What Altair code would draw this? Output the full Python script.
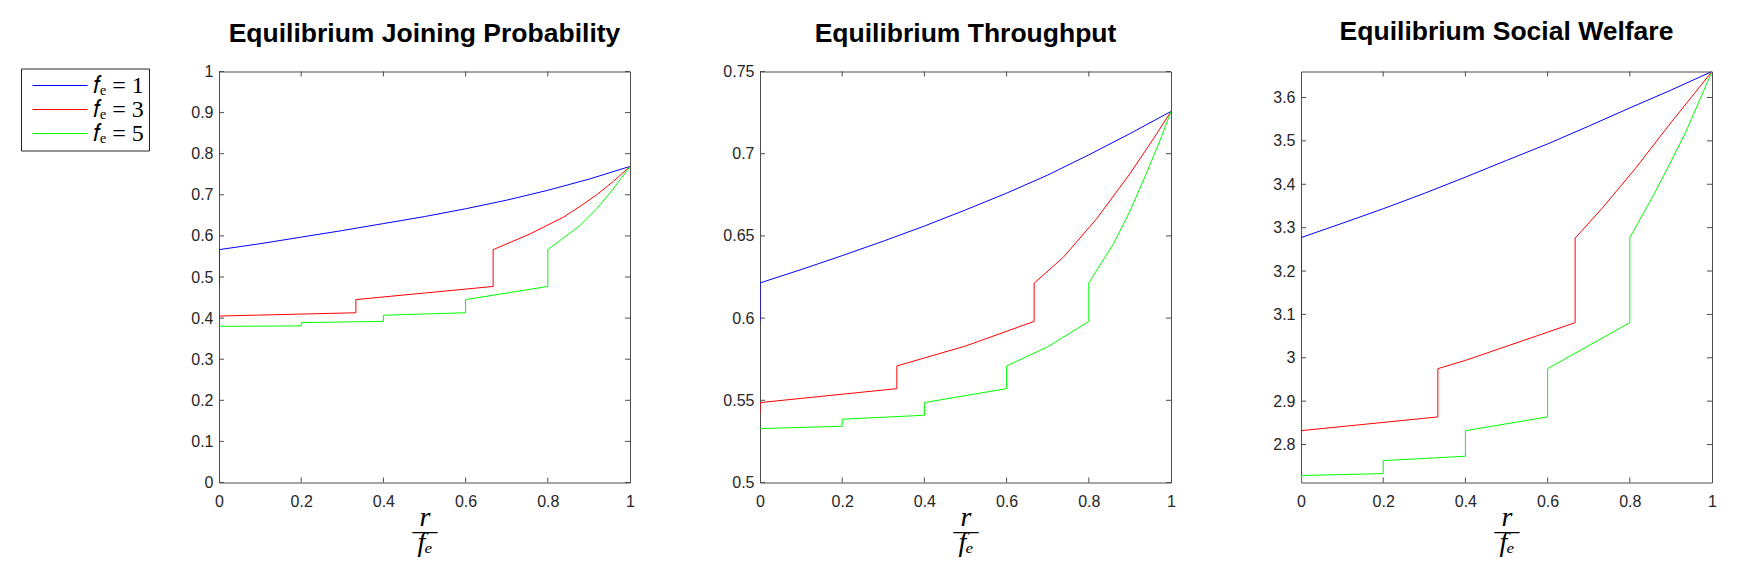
import altair as alt
import pandas as pd

# ---------------- data ----------------
series_names = ["𝑓ₑ = 1", "𝑓ₑ = 3", "𝑓ₑ = 5"]
series_colors = ["#0000ff", "#ff0000", "#00ff00"]
x_ticks = [0, 0.2, 0.4, 0.6, 0.8, 1]

# Panel 1: Equilibrium Joining Probability
jp_blue_x = [0, 0, 0.1, 0.2, 0.3, 0.4, 0.5, 0.6, 0.7, 0.8, 0.9, 1.0]
jp_blue_y = [0.48, 0.5665, 0.581, 0.597, 0.613, 0.630, 0.647, 0.666, 0.687, 0.711, 0.738, 0.769]
jp_red_x = [0, 0, 0.333, 0.333, 0.5, 0.667, 0.667, 0.757, 0.838, 0.878, 0.919, 0.96, 1.0]
jp_red_y = [0.395, 0.405, 0.413, 0.445, 0.461, 0.477, 0.5665, 0.605, 0.6455, 0.6715, 0.700, 0.733, 0.769]
jp_green_x = [0, 0.2, 0.2, 0.4, 0.4, 0.6, 0.6, 0.8, 0.8, 0.878, 0.919, 0.959, 1.0]
jp_green_y = [0.380, 0.381, 0.389, 0.392, 0.407, 0.413, 0.445, 0.477, 0.5665, 0.625, 0.666, 0.714, 0.769]
jp_y_ticks = [0, 0.1, 0.2, 0.3, 0.4, 0.5, 0.6, 0.7, 0.8, 0.9, 1]
jp_y_domain = [0, 1]

# Panel 2: Equilibrium Throughput
tp_blue_x = [0, 0, 0.1, 0.2, 0.3, 0.4, 0.5, 0.6, 0.7, 0.8, 0.9, 1.0]
tp_blue_y = [0.598, 0.6214, 0.6295, 0.638, 0.6468, 0.656, 0.6658, 0.676, 0.687, 0.6993, 0.7122, 0.7257]
tp_red_x = [0, 0, 0.333, 0.333, 0.5, 0.667, 0.667, 0.738, 0.819, 0.9, 0.957, 1.0]
tp_red_y = [0.542, 0.5486, 0.5571, 0.5709, 0.583, 0.598, 0.6212, 0.637, 0.6604, 0.6878, 0.709, 0.7257]
tp_green_x = [0, 0.2, 0.2, 0.4, 0.4, 0.6, 0.6, 0.7, 0.8, 0.8, 0.86, 0.9, 0.941, 0.977, 1.0]
tp_green_y = [0.5328, 0.5342, 0.5385, 0.5409, 0.5486, 0.5571, 0.5709, 0.5825, 0.598, 0.6214, 0.6452, 0.665, 0.6885, 0.7105, 0.7257]
tp_y_ticks = [0.5, 0.55, 0.6, 0.65, 0.7, 0.75]
tp_y_domain = [0.5, 0.75]

# Panel 3: Equilibrium Social Welfare
sw_blue_x = [0, 0, 0.1, 0.2, 0.3, 0.4, 0.5, 0.6, 0.7, 0.8, 0.9, 1.0]
sw_blue_y = [3.086, 3.277, 3.31, 3.3436, 3.379, 3.4165, 3.455, 3.493, 3.534, 3.576, 3.617, 3.66]
sw_red_x = [0, 0, 0.333, 0.333, 0.4, 0.6, 0.667, 0.667, 0.733, 0.814, 0.895, 1.0]
sw_red_y = [2.773, 2.832, 2.8637, 2.975, 2.994, 3.059, 3.081, 3.276, 3.345, 3.437, 3.536, 3.66]
sw_green_x = [0, 0, 0.2, 0.2, 0.4, 0.4, 0.6, 0.6, 0.7, 0.8, 0.8, 0.855, 0.895, 0.936, 1.0]
sw_green_y = [2.7125, 2.7286, 2.733, 2.763, 2.773, 2.832, 2.8637, 2.975, 3.028, 3.081, 3.277, 3.370, 3.443, 3.520, 3.66]
sw_y_ticks = [2.8, 2.9, 3.0, 3.1, 3.2, 3.3, 3.4, 3.5, 3.6]
sw_y_domain = [2.7125, 3.66]

titles = ["Equilibrium Joining Probability", "Equilibrium Throughput", "Equilibrium Social Welfare"]
x_title = ["r", "\u2014", "fₑ"]

# ---------------- styling ----------------
W = 411
H = 411
TL = 5  # inner tick length
BOX = "#4d4d4d"


def make_df(xs, ys):
    rows = []
    for name, xv, yv in zip(series_names, xs, ys):
        for i, (a, b) in enumerate(zip(xv, yv)):
            rows.append({"series": name, "x": a, "y": b, "i": i})
    return pd.DataFrame(rows)


legend = alt.Legend(
    orient="none", legendX=-198, legendY=-3, title=None,
    symbolType="M-5.5,0H5.5", symbolSize=100, symbolStrokeWidth=1,
    symbolOffset=22, labelOffset=21,
    labelFont="Liberation Serif", labelFontSize=24, labelColor="black",
    padding=5, rowPadding=0, strokeColor="#262626", fillColor="white",
    labelLimit=300,
)


def panel(title, xs, ys, ydom, yticks, toff):
    df = make_df(xs, ys)
    xscale = alt.Scale(domain=[0, 1], nice=False, zero=False)
    yscale = alt.Scale(domain=ydom, nice=False, zero=False)
    xaxis = alt.Axis(values=x_ticks, format="~g", title=x_title, labelFlush=False,
                     titleFont="Liberation Serif", titleFontStyle="italic",
                     titleFontWeight="normal", titleFontSize=28, titleColor="black",
                     titleLineHeight=12.5, titlePadding=-6)
    yaxis = alt.Axis(values=yticks, format="~g", title=None, labelPadding=6)
    lines = alt.Chart(df).mark_line(strokeWidth=1, clip=True).encode(
        x=alt.X("x:Q", scale=xscale, axis=xaxis),
        y=alt.Y("y:Q", scale=yscale, axis=yaxis),
        color=alt.Color("series:N", scale=alt.Scale(domain=series_names, range=series_colors),
                        legend=legend),
        order="i:Q",
    )
    xt = pd.DataFrame({"x": x_ticks[1:-1]})
    yt = pd.DataFrame({"y": yticks})
    xb = alt.Chart(xt).mark_rule(color=BOX, strokeWidth=1).encode(
        x=alt.X("x:Q", scale=xscale, axis=xaxis), y=alt.value(H), y2=alt.value(H - TL))
    xtp = alt.Chart(xt).mark_rule(color=BOX, strokeWidth=1).encode(
        x=alt.X("x:Q", scale=xscale, axis=xaxis), y=alt.value(0), y2=alt.value(TL))
    yl = alt.Chart(yt).mark_rule(color=BOX, strokeWidth=1).encode(
        y=alt.Y("y:Q", scale=yscale, axis=yaxis), x=alt.value(0), x2=alt.value(TL))
    yr = alt.Chart(yt).mark_rule(color=BOX, strokeWidth=1).encode(
        y=alt.Y("y:Q", scale=yscale, axis=yaxis), x=alt.value(W), x2=alt.value(W - TL))
    return alt.layer(xb, xtp, yl, yr, lines).properties(
        width=W, height=H,
        title=alt.TitleParams(text=title, fontSize=26.5, font="Liberation Sans",
                              fontWeight="bold", color="black", baseline="alphabetic",
                              offset=toff, anchor="middle"),
    )


p1 = panel(titles[0], [jp_blue_x, jp_red_x, jp_green_x], [jp_blue_y, jp_red_y, jp_green_y], jp_y_domain, jp_y_ticks, -5)
p2 = panel(titles[1], [tp_blue_x, tp_red_x, tp_green_x], [tp_blue_y, tp_red_y, tp_green_y], tp_y_domain, tp_y_ticks, -5)
p3 = panel(titles[2], [sw_blue_x, sw_red_x, sw_green_x], [sw_blue_y, sw_red_y, sw_green_y], sw_y_domain, sw_y_ticks, 5)

chart = alt.hconcat(p1, p2, p3, spacing=130, bounds="flush").configure_view(
    stroke=BOX, strokeWidth=1
).configure_axis(
    domain=False, ticks=False, grid=False,
    labelFont="Liberation Sans", labelFontSize=16, labelColor="#262626", labelPadding=11,
).properties(
    padding={"left": 20, "top": 17.5, "right": 10, "bottom": 2},
    background="white",
)

chart.save("out.html", embed_options={"renderer": "svg", "actions": False})
